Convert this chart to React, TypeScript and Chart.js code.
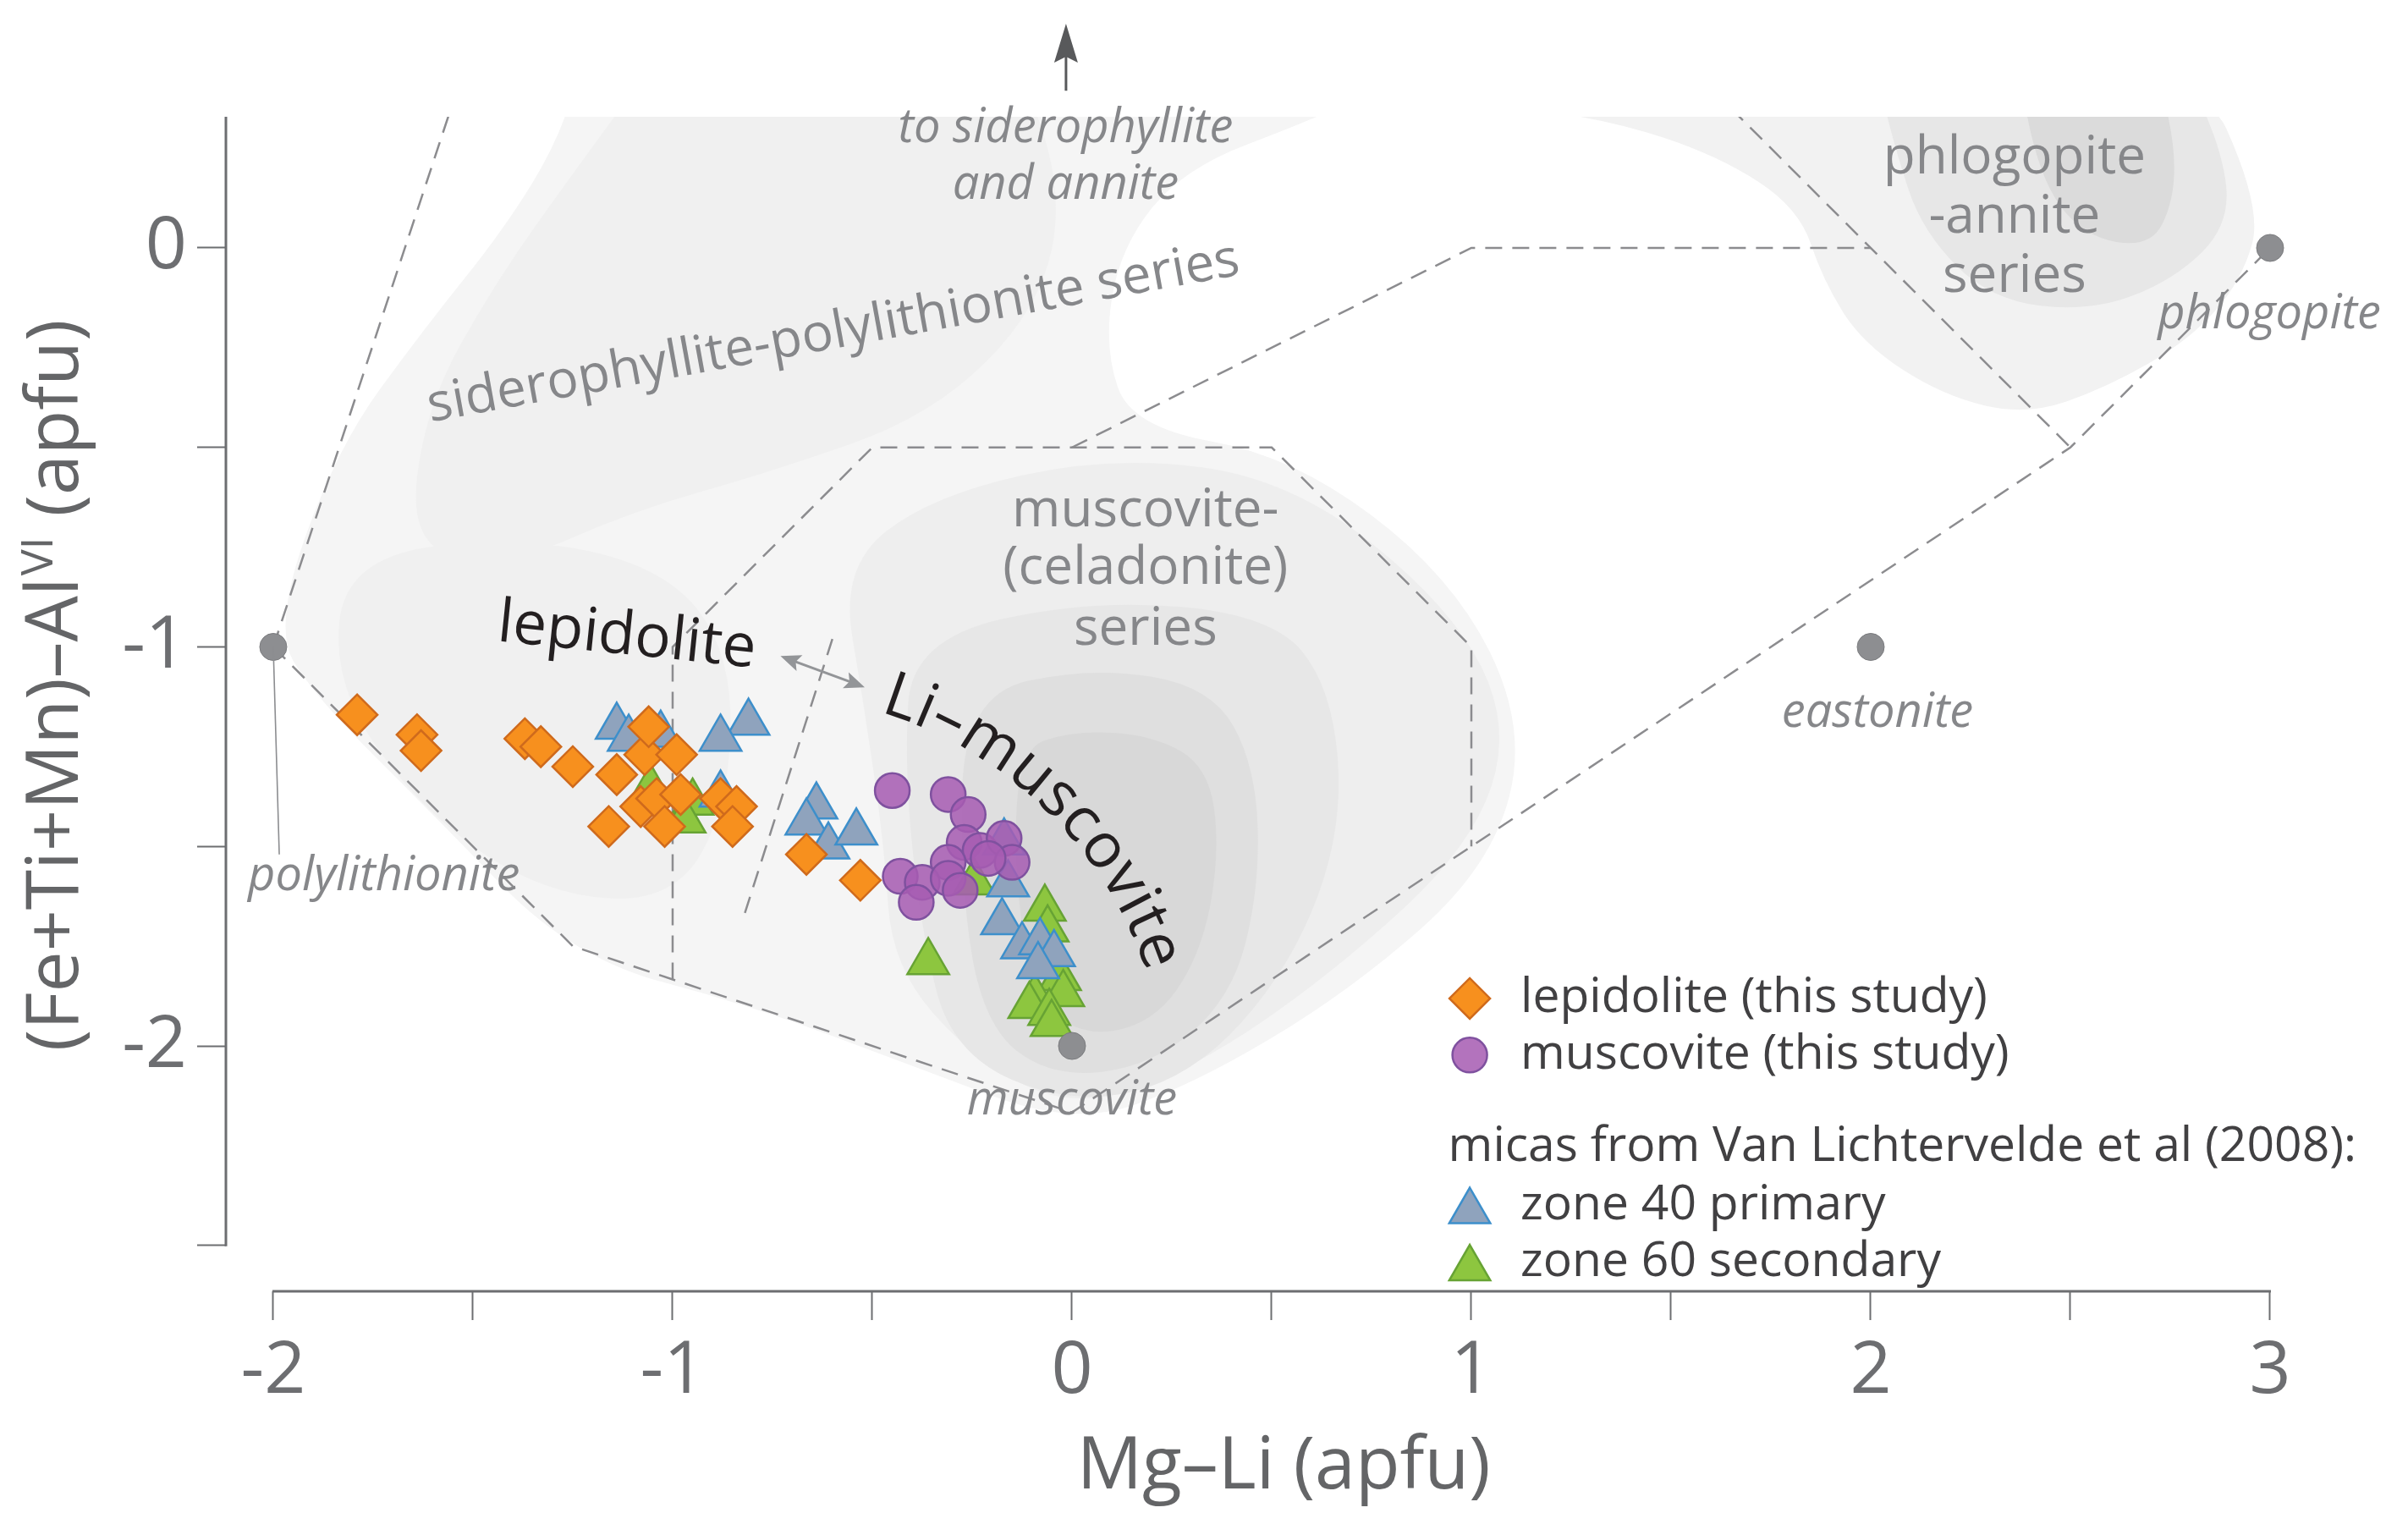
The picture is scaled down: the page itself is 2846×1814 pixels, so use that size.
import React, { useEffect, useRef } from 'react';
import { Chart, registerables } from 'chart.js';

Chart.register(...registerables);

// ---------------- data ----------------
const lepidolite: number[][] = [
  [-1.79, -1.17], [-1.64, -1.22], [-1.63, -1.26], [-1.37, -1.23], [-1.33, -1.25],
  [-1.25, -1.30], [-1.14, -1.32], [-1.16, -1.45], [-1.07, -1.27], [-1.06, -1.20],
  [-0.99, -1.27], [-1.08, -1.40], [-1.04, -1.38], [-1.02, -1.45], [-0.98, -1.37],
  [-0.88, -1.38], [-0.84, -1.40], [-0.85, -1.45], [-0.665, -1.52], [-0.53, -1.585],
];
const muscovite: number[][] = [
  [-0.45, -1.36], [-0.31, -1.37], [-0.26, -1.42], [-0.27, -1.49], [-0.23, -1.51],
  [-0.17, -1.48], [-0.15, -1.54], [-0.21, -1.53], [-0.31, -1.54], [-0.43, -1.575],
  [-0.375, -1.59], [-0.31, -1.58], [-0.28, -1.61], [-0.39, -1.64],
];
const zone40: number[][] = [
  [-1.14, -1.20], [-1.11, -1.23], [-1.03, -1.22], [-0.81, -1.19], [-0.88, -1.23],
  [-0.88, -1.37], [-0.64, -1.40], [-0.665, -1.44], [-0.61, -1.50], [-0.54, -1.465],
  [-0.17, -1.49], [-0.16, -1.595], [-0.175, -1.69], [-0.125, -1.75], [-0.08, -1.74],
  [-0.045, -1.77], [-0.085, -1.80],
];
const zone60: number[][] = [
  [-1.055, -1.355], [-0.95, -1.39], [-0.97, -1.435], [-0.245, -1.59], [-0.36, -1.79],
  [-0.068, -1.656], [-0.061, -1.708], [-0.03, -1.83], [-0.022, -1.87], [-0.093, -1.88],
  [-0.107, -1.90], [-0.057, -1.917], [-0.051, -1.945],
];
const endMembers: number[][] = [[-2, -1], [0, -2], [2, -1], [3, 0]];
const endMemberNames = ['polylithionite', 'muscovite', 'eastonite', 'phlogopite'];

const xTicks = [-2, -1.5, -1, -0.5, 0, 0.5, 1, 1.5, 2, 2.5, 3];
const yTicks = [-2.5, -2, -1.5, -1, -0.5, 0];

// field boundaries (dashed)
const boundaryLines: number[][][] = [
  [[-2, -1], [-1.555, 0.35]],
  [[-2, -1], [-1.25, -1.75], [0, -2.1667], [1, -1.5], [2.5, -0.5], [3, 0]],
  [[-1, -1.8333], [-1, -1], [-0.5, -0.5], [0.5, -0.5], [1, -1], [1, -1.5]],
  [[0, -0.5], [1, 0], [2, 0]],
  [[1.65, 0.35], [2.5, -0.5]],
  [[-0.6, -0.98], [-0.82, -1.67]],
];

// density clouds (shaded background), drawn from outside to inside
const cloudEnvelope = [[-1.22, 0.5], [1.0, 0.5], [0.6, 0.32], [0.28, 0.2], [0.12, 0.0], [0.08, -0.25], [0.15, -0.45], [0.55, -0.52], [0.95, -0.82], [1.14, -1.2], [1.05, -1.55], [0.7, -1.86], [0.3, -2.1], [0.0, -2.2], [-0.4, -2.05], [-0.8, -1.9], [-1.25, -1.78], [-1.6, -1.42], [-1.9, -1.12], [-2.0, -0.95], [-1.84, -0.5], [-1.62, -0.2], [-1.42, 0.05], [-1.28, 0.28]];
const cloudPhlog1 = [[0.95, 0.5], [2.8, 0.5], [2.98, 0.1], [2.93, -0.08], [2.8, -0.23], [2.59, -0.35], [2.39, -0.42], [2.18, -0.37], [1.98, -0.24], [1.88, -0.08], [1.82, 0.1], [1.62, 0.23], [1.35, 0.32], [1.05, 0.36]];
const cloudPhlog2 = [[2.0, 0.5], [2.76, 0.5], [2.88, 0.25], [2.9, 0.06], [2.76, -0.08], [2.55, -0.16], [2.3, -0.13], [2.13, 0.04], [2.06, 0.25]];
const cloudPhlog3 = [[2.36, 0.5], [2.7, 0.5], [2.76, 0.28], [2.76, 0.12], [2.7, 0.0], [2.53, 0.03], [2.42, 0.18]];
const cloudSidero = [[-1.02, 0.5], [-0.15, 0.5], [-0.02, 0.15], [-0.08, -0.15], [-0.35, -0.42], [-0.75, -0.56], [-1.1, -0.66], [-1.42, -0.8], [-1.66, -0.75], [-1.62, -0.4], [-1.44, -0.08], [-1.24, 0.2]];
const cloudLepid = [[-1.82, -0.78], [-1.4, -0.72], [-1.02, -0.8], [-0.85, -1.02], [-0.86, -1.4], [-1.0, -1.64], [-1.32, -1.62], [-1.62, -1.42], [-1.85, -1.1]];
const cloudMusc1 = [[-0.58, -0.8], [-0.35, -0.62], [0.1, -0.52], [0.55, -0.58], [0.95, -0.9], [1.1, -1.2], [1.0, -1.5], [0.65, -1.82], [0.3, -2.06], [0.0, -2.16], [-0.25, -2.03], [-0.45, -1.8], [-0.47, -1.5], [-0.52, -1.15]];
const cloudMusc2 = [[-0.4, -0.98], [0.05, -0.88], [0.5, -0.92], [0.65, -1.1], [0.68, -1.45], [0.55, -1.8], [0.3, -2.08], [0.0, -2.15], [-0.3, -2.02], [-0.38, -1.7], [-0.42, -1.3]];
const cloudMusc3 = [[-0.27, -1.12], [0.05, -1.05], [0.35, -1.1], [0.46, -1.3], [0.47, -1.6], [0.4, -1.88], [0.2, -2.05], [-0.05, -2.08], [-0.22, -1.95], [-0.28, -1.6]];
const cloudMusc4 = [[-0.14, -1.26], [0.0, -1.21], [0.2, -1.22], [0.34, -1.3], [0.37, -1.5], [0.33, -1.75], [0.22, -1.93], [0.05, -1.98], [-0.08, -1.9], [-0.14, -1.65]];

const clouds = [
  { pts: cloudEnvelope, color: '#f5f5f5' },
  { pts: cloudPhlog1, color: '#f2f2f2' },
  { pts: cloudSidero, color: '#f0f0f0' },
  { pts: cloudLepid, color: '#f0f0f0' },
  { pts: cloudMusc1, color: '#eeeeee' },
  { pts: cloudMusc2, color: '#e7e7e7' },
  { pts: cloudMusc3, color: '#dfdfdf' },
  { pts: cloudMusc4, color: '#d8d8d8' },
  { pts: cloudPhlog2, color: '#e7e7e7' },
  { pts: cloudPhlog3, color: '#dbdbdb' },
];

// ---------------- styling ----------------
const FONT = "'Open Sans', 'Noto Sans', sans-serif";
const AXIS_GRAY = '#6d6e71';
const LABEL_GRAY = '#86878a';
const DARK = '#231f20';
const LEGEND_TXT = '#414042';

const X_MIN = -2.1186;
const X_MAX = 3.25;
const Y_MIN = -2.615;
const Y_MAX = 0.3287;

const toXY = (arr: number[][]) => arr.map(([x, y]) => ({ x, y }));

function smoothClosed(ctx: CanvasRenderingContext2D, pts: number[][]) {
  const n = pts.length;
  const mid = (a: number[], b: number[]) => [(a[0] + b[0]) / 2, (a[1] + b[1]) / 2];
  const m0 = mid(pts[n - 1], pts[0]);
  ctx.moveTo(m0[0], m0[1]);
  for (let i = 0; i < n; i++) {
    const p = pts[i];
    const q = pts[(i + 1) % n];
    const m = mid(p, q);
    ctx.quadraticCurveTo(p[0], p[1], m[0], m[1]);
  }
  ctx.closePath();
}

function drawDiamond(ctx: CanvasRenderingContext2D, x: number, y: number, r: number, fill: string, stroke: string) {
  ctx.beginPath();
  ctx.moveTo(x - r, y); ctx.lineTo(x, y - r); ctx.lineTo(x + r, y); ctx.lineTo(x, y + r); ctx.closePath();
  ctx.fillStyle = fill; ctx.fill(); ctx.strokeStyle = stroke; ctx.lineWidth = 2.5; ctx.stroke();
}
function drawTriangle(ctx: CanvasRenderingContext2D, x: number, y: number, r: number, fill: string, stroke: string) {
  const w = r * Math.sqrt(3) / 2;
  ctx.beginPath();
  ctx.moveTo(x, y - r); ctx.lineTo(x + w, y + r / 2); ctx.lineTo(x - w, y + r / 2); ctx.closePath();
  ctx.fillStyle = fill; ctx.fill(); ctx.strokeStyle = stroke; ctx.lineWidth = 2.5; ctx.stroke();
}
function drawCircle(ctx: CanvasRenderingContext2D, x: number, y: number, r: number, fill: string, stroke: string) {
  ctx.beginPath(); ctx.arc(x, y, r, 0, Math.PI * 2);
  ctx.fillStyle = fill; ctx.fill(); ctx.strokeStyle = stroke; ctx.lineWidth = 2.5; ctx.stroke();
}
function arrowHead(ctx: CanvasRenderingContext2D, tx: number, ty: number, fx: number, fy: number, len: number, half: number, notch = 0.8) {
  const a = Math.atan2(ty - fy, tx - fx);
  ctx.beginPath();
  ctx.moveTo(tx, ty);
  ctx.lineTo(tx - len * Math.cos(a) + half * Math.sin(a), ty - len * Math.sin(a) - half * Math.cos(a));
  ctx.lineTo(tx - len * notch * Math.cos(a), ty - len * notch * Math.sin(a));
  ctx.lineTo(tx - len * Math.cos(a) - half * Math.sin(a), ty - len * Math.sin(a) + half * Math.cos(a));
  ctx.closePath();
  ctx.fill();
}

const COL = {
  lepFill: '#f7901e', lepLine: '#cf6a1c',
  musFill: 'rgba(166, 92, 178, 0.86)', musLine: '#7f519f',
  z40Fill: '#8fa3bd', z40Line: '#3d8fcb',
  z60Fill: '#8dc63f', z60Line: '#67a334',
};

const cloudPlugin = {
  id: 'clouds',
  beforeDatasetsDraw(chart: any) {
    const { ctx, chartArea: a, scales } = chart;
    const xs = scales.x, ys = scales.y;
    ctx.save();
    ctx.beginPath();
    ctx.rect(a.left, a.top, a.right - a.left, a.bottom - a.top);
    ctx.clip();
    for (const c of clouds) {
      const px = c.pts.map(([x, y]) => [xs.getPixelForValue(x), ys.getPixelForValue(y)]);
      ctx.beginPath();
      smoothClosed(ctx, px);
      ctx.fillStyle = c.color;
      ctx.fill();
    }
    ctx.restore();
  },
};

const annotatePlugin = {
  id: 'annotate',
  afterDatasetsDraw(chart: any) {
    const { ctx, chartArea: a, scales } = chart;
    const xs = scales.x, ys = scales.y;
    const X = (v: number) => xs.getPixelForValue(v);
    const Y = (v: number) => ys.getPixelForValue(v);
    const unit = X(1) - X(0);
    ctx.save();

    // axis lines
    ctx.strokeStyle = AXIS_GRAY;
    ctx.lineWidth = 3;
    ctx.beginPath();
    ctx.moveTo(a.left, Y(Y_MAX)); ctx.lineTo(a.left, Y(-2.5) + 1);
    ctx.moveTo(X(-2) - 1, a.bottom); ctx.lineTo(X(3) + 1, a.bottom);
    ctx.stroke();

    // polylithionite leader line
    ctx.strokeStyle = '#8c8d90';
    ctx.lineWidth = 1.6;
    ctx.beginPath();
    ctx.moveTo(X(-2), Y(-1)); ctx.lineTo(X(-1.985), Y(-1.52));
    ctx.stroke();

    // italic end-member labels
    ctx.fillStyle = LABEL_GRAY;
    ctx.textAlign = 'center';
    ctx.textBaseline = 'alphabetic';
    ctx.font = `italic 56px ${FONT}`;
    const itLabels: [string, number, number][] = [
      [endMemberNames[0], -1.723, -1.61],
      [endMemberNames[1], 0.0, -2.172],
      [endMemberNames[2], 2.017, -1.2],
      [endMemberNames[3], 2.998, -0.201],
      ['to siderophyllite', -0.016, 0.266],
      ['and annite', -0.016, 0.123],
    ];
    for (const [t, x, y] of itLabels) ctx.fillText(t, X(x), Y(y));

    // arrow to siderophyllite
    ctx.strokeStyle = '#58595b';
    ctx.fillStyle = '#58595b';
    ctx.lineWidth = 3;
    ctx.beginPath();
    ctx.moveTo(X(-0.015), Y(0.394)); ctx.lineTo(X(-0.015), Y(0.48));
    ctx.stroke();
    arrowHead(ctx, X(-0.015), Y(0.562), X(-0.015), Y(0.394), 46, 14, 0.85);

    // series labels (upright gray)
    ctx.fillStyle = LABEL_GRAY;
    ctx.font = `62px ${FONT}`;
    const multi: [string[], number, number[]][] = [
      [['muscovite-', '(celadonite)', 'series'], 0.184, [-0.698, -0.843, -0.994]],
      [['phlogopite', '-annite', 'series'], 2.36, [0.187, 0.038, -0.11]],
    ];
    for (const [lines, x, ysArr] of multi) lines.forEach((t, i) => ctx.fillText(t, X(x), Y(ysArr[i])));
    ctx.save();
    ctx.translate(X(-0.591), Y(-0.251));
    ctx.rotate(-10.3 * Math.PI / 180);
    ctx.fillText('siderophyllite-polylithionite series', 0, 0);
    ctx.restore();

    // lepidolite (black, slightly rotated)
    ctx.fillStyle = DARK;
    ctx.font = `71px ${FONT}`;
    ctx.save();
    ctx.translate(X(-1.119), Y(-1.018));
    ctx.rotate(5.9 * Math.PI / 180);
    ctx.fillText('lepidolite', 0, 0);
    ctx.restore();

    // Li–muscovite along an arc
    ctx.font = `74px ${FONT}`;
    const cx = X(-0.778), cy = Y(-2.136), r = 1.017 * unit;
    let ang = -73 * Math.PI / 180;
    ctx.textAlign = 'center';
    for (const ch of 'Li–muscovite') {
      const w = ctx.measureText(ch).width;
      const m = ang + (w / 2) / r;
      ctx.save();
      ctx.translate(cx + r * Math.cos(m), cy + r * Math.sin(m));
      ctx.rotate(m + Math.PI / 2);
      ctx.fillText(ch, 0, 0);
      ctx.restore();
      ang += (w + 1) / r;
    }

    // double arrow lepidolite <-> Li-muscovite
    ctx.strokeStyle = '#939598';
    ctx.fillStyle = '#939598';
    ctx.lineWidth = 3;
    const ax1 = X(-0.73), ay1 = Y(-1.023), ax2 = X(-0.519), ay2 = Y(-1.101);
    ctx.beginPath();
    ctx.moveTo(ax1 + 10, ay1 + 3.7); ctx.lineTo(ax2 - 10, ay2 - 3.7);
    ctx.stroke();
    arrowHead(ctx, ax1, ay1, ax2, ay2, 24, 10);
    arrowHead(ctx, ax2, ay2, ax1, ay1, 24, 10);

    // legend
    const lx = X(0.996), tx = X(1.123);
    ctx.font = `57px ${FONT}`;
    ctx.textAlign = 'left';
    ctx.textBaseline = 'middle';
    drawDiamond(ctx, lx, Y(-1.881), 24, COL.lepFill, COL.lepLine);
    drawCircle(ctx, lx, Y(-2.023), 20.5, COL.musFill, COL.musLine);
    drawTriangle(ctx, lx, Y(-2.40) + 7, 28, COL.z40Fill, COL.z40Line);
    drawTriangle(ctx, lx, Y(-2.543) + 7, 28, COL.z60Fill, COL.z60Line);
    ctx.fillStyle = LEGEND_TXT;
    ctx.fillText('lepidolite (this study)', tx, Y(-1.881));
    ctx.fillText('muscovite (this study)', tx, Y(-2.023));
    ctx.fillText('micas from Van Lichtervelde et al (2008):', X(0.942), Y(-2.254));
    ctx.fillText('zone 40 primary', tx, Y(-2.40));
    ctx.fillText('zone 60 secondary', tx, Y(-2.543));

    // axis titles
    ctx.fillStyle = '#646567';
    ctx.textBaseline = 'alphabetic';
    ctx.textAlign = 'center';
    ctx.font = `86px ${FONT}`;
    ctx.fillText('Mg–Li (apfu)', X(0.53), 1751);

    ctx.save();
    ctx.translate(84, 804);
    ctx.rotate(-Math.PI / 2);
    ctx.textAlign = 'left';
    const p1 = '(Fe+Ti+Mn)–Al', p2 = 'VI', p3 = ' (apfu)';
    ctx.font = `86px ${FONT}`;
    const w1 = ctx.measureText(p1).width, w3 = ctx.measureText(p3).width;
    ctx.font = `52px ${FONT}`;
    const w2 = ctx.measureText(p2).width;
    let px = -(w1 + w2 + w3) / 2;
    ctx.font = `86px ${FONT}`;
    ctx.fillText(p1, px, 0); px += w1;
    ctx.font = `52px ${FONT}`;
    ctx.fillText(p2, px + 2, -30); px += w2 + 4;
    ctx.font = `86px ${FONT}`;
    ctx.fillText(p3, px, 0);
    ctx.restore();

    ctx.restore();
  },
};

export default function App() {
  const ref = useRef<HTMLCanvasElement>(null);
  useEffect(() => {
    const canvas = ref.current;
    if (!canvas) return;
    const lineSets = boundaryLines.map((l) => ({
      type: 'scatter' as const,
      data: toXY(l),
      showLine: true,
      pointRadius: 0,
      pointHoverRadius: 0,
      borderColor: '#8c8c8f',
      borderWidth: 2.5,
      borderDash: [20, 12],
      fill: false,
      tension: 0,
      order: 10,
    }));
    const chart = new Chart(canvas, {
      type: 'scatter',
      data: {
        datasets: [
          { label: 'end members', data: toXY(endMembers), pointStyle: 'circle', pointRadius: 16, pointHoverRadius: 16, backgroundColor: '#8d8e91', borderColor: '#7a7b7e', borderWidth: 1, order: 0 },
          { label: 'muscovite (this study)', data: toXY(muscovite), pointStyle: 'circle', pointRadius: 20.5, pointHoverRadius: 20.5, backgroundColor: COL.musFill, borderColor: COL.musLine, borderWidth: 2.5, order: 1 },
          { label: 'lepidolite (this study)', data: toXY(lepidolite), pointStyle: 'rectRot', pointRadius: 24, pointHoverRadius: 24, backgroundColor: COL.lepFill, borderColor: COL.lepLine, borderWidth: 2.5, order: 2 },
          { label: 'zone 40 primary', data: toXY(zone40), pointStyle: 'triangle', pointRadius: 28.5, pointHoverRadius: 28.5, backgroundColor: COL.z40Fill, borderColor: COL.z40Line, borderWidth: 2.5, order: 3 },
          { label: 'zone 60 secondary', data: toXY(zone60), pointStyle: 'triangle', pointRadius: 28.5, pointHoverRadius: 28.5, backgroundColor: COL.z60Fill, borderColor: COL.z60Line, borderWidth: 2.5, order: 4 },
          ...lineSets,
        ] as any,
      },
      options: {
        responsive: false,
        animation: false,
        devicePixelRatio: 1,
        events: [],
        layout: { padding: { top: 130, right: 37, left: 0, bottom: 0 } },
        plugins: { legend: { display: false }, tooltip: { enabled: false }, title: { display: false } },
        scales: {
          x: {
            type: 'linear',
            min: X_MIN,
            max: X_MAX,
            afterBuildTicks: (s: any) => { s.ticks = xTicks.map((v) => ({ value: v })); },
            afterFit: (s: any) => { s.height = 280; },
            border: { display: false },
            grid: { display: true, drawOnChartArea: false, drawTicks: true, tickLength: 34, tickWidth: 2, tickColor: AXIS_GRAY },
            ticks: {
              autoSkip: false, maxRotation: 0, padding: 10, color: AXIS_GRAY,
              font: { family: FONT, size: 86 },
              callback: (v: any) => (Number.isInteger(v) ? String(v) : ''),
            },
          },
          y: {
            type: 'linear',
            min: Y_MIN,
            max: Y_MAX,
            afterBuildTicks: (s: any) => { s.ticks = yTicks.map((v) => ({ value: v })); },
            afterFit: (s: any) => { s.width = 259; },
            border: { display: false },
            grid: { display: true, drawOnChartArea: false, drawTicks: true, tickLength: 34, tickWidth: 2, tickColor: AXIS_GRAY },
            ticks: {
              autoSkip: false, padding: 12, color: AXIS_GRAY,
              font: { family: FONT, size: 86 },
              callback: (v: any) => (Number.isInteger(v) ? String(v) : ''),
            },
          },
        },
      } as any,
      plugins: [cloudPlugin, annotatePlugin],
    });
    return () => chart.destroy();
  }, []);
  return <canvas ref={ref} width={2830} height={1798} style={{ display: 'block' }} />;
}
